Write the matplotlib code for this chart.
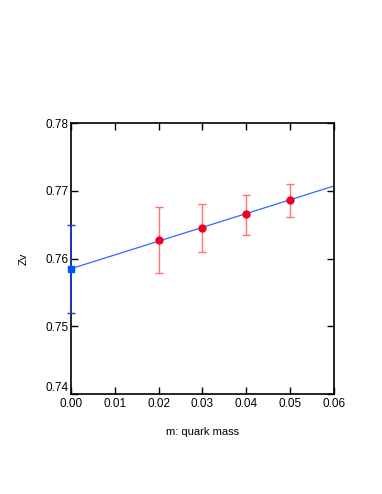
import matplotlib
matplotlib.use("Agg")
import matplotlib.pyplot as plt
import numpy as np

plt.rcParams["font.family"] = ["Liberation Sans", "DejaVu Sans"]

# data
mass = [0.02, 0.03, 0.04, 0.05]
zv = [0.7627, 0.7645, 0.7665, 0.7686]
zv_lo = [0.7579, 0.7610, 0.7635, 0.7661]
zv_hi = [0.7676, 0.7680, 0.7694, 0.7710]

chiral_m = [0.0]
chiral_zv = [0.7585]
chiral_lo = [0.7520]
chiral_hi = [0.7649]

fit_m = [0.0, 0.06]
fit_zv = [0.7585, 0.7707]

fig = plt.figure(figsize=(3.82, 4.94), dpi=100)
ax = fig.add_axes([0.186, 0.2024, 0.688, 0.5486])

ax.plot(fit_m, fit_zv, color="#3366ff", linewidth=0.9, zorder=2)

err = [np.array(zv) - np.array(zv_lo), np.array(zv_hi) - np.array(zv)]
ax.errorbar(mass, zv, yerr=err, fmt="none", ecolor="#ff6666", elinewidth=1.0,
            capsize=3, capthick=1.0, alpha=0.9, zorder=3)
ax.plot(mass, zv, "o", color="#ee0022", markersize=5, zorder=4)

cerr = [np.array(chiral_zv) - np.array(chiral_lo), np.array(chiral_hi) - np.array(chiral_zv)]
ax.errorbar(chiral_m, chiral_zv, yerr=cerr, fmt="none", ecolor="#1a3fcc", elinewidth=1.2,
            capsize=3, capthick=1.0, zorder=3, clip_on=False)
ax.plot(chiral_m, chiral_zv, "s", color="#0055ff", markersize=5, zorder=5, clip_on=False)

ax.set_xlim(0, 0.06)
ax.set_ylim(0.74, 0.78)
xt = np.arange(0, 0.061, 0.01)
yt = np.arange(0.74, 0.781, 0.01)
ax.set_xticks(xt)
ax.set_yticks(yt)
ax.set_xticklabels([f"{v:.2f}" for v in xt])
ax.set_yticklabels([f"{v:.2f}" for v in yt])
ax.tick_params(direction="in", length=5, width=1, top=True, right=True,
               labelsize=8.5, pad=2)
ax.tick_params(axis="x", pad=3)
# nudge bottom y label up a bit so it clears the 0.00 label
ax.get_yticklabels()[0].set_verticalalignment("bottom")
for s in ax.spines.values():
    s.set_linewidth(1.2)

ax.set_xlabel("m: quark mass", fontsize=8, labelpad=12)
ax.set_ylabel("Zv", fontsize=8, labelpad=12)

fig.savefig("out.png", dpi=100)
